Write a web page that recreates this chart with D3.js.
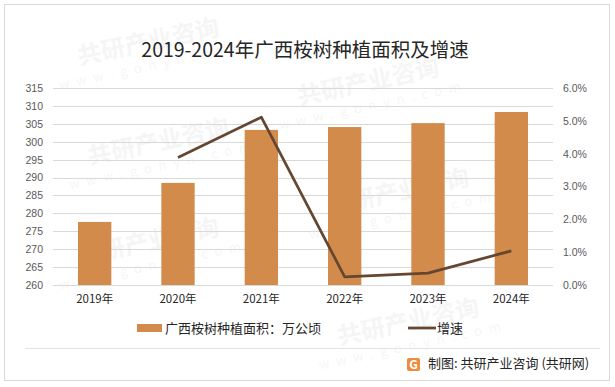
<!DOCTYPE html>
<html>
<head>
<meta charset="utf-8">
<script src="https://cdn.jsdelivr.net/npm/d3@7"></script>
<style>
  body { margin: 0; background: #fff; }
  text { font-family: "Noto Sans CJK SC", "Noto Sans", sans-serif; }
</style>
</head>
<body>
<div id="chart"></div>
<script>
// Data
var years = ["2019年", "2020年", "2021年", "2022年", "2023年", "2024年"];
var area = [277.6, 288.5, 303.3, 304.1, 305.2, 308.3];
var growth = [null, 3.88, 5.11, 0.25, 0.36, 1.04];
var leftTicks = [260, 265, 270, 275, 280, 285, 290, 295, 300, 305, 310, 315];
var rightTicks = [0, 1, 2, 3, 4, 5, 6];

// Canvas attributes
var width = 615;
var height = 387;
var plotLeft = 53;
var plotRight = 553;
var plotTop = 88;
var plotBottom = 285;
var barColor = "#d38b4c";
var lineColor = "#654630";

var svg = d3
  .select("#chart")
  .append("svg")
  .attr("width", width)
  .attr("height", height);

// border
svg.append("rect")
  .attr("x", 4.5).attr("y", 4.5)
  .attr("width", 605).attr("height", 376)
  .attr("fill", "#fff")
  .attr("stroke", "#d9d9d9");

// faint watermarks, kept inside the frame
var marks = [[150, 50], [370, 90], [160, 150], [400, 200], [150, 250], [410, 330]];
marks.forEach(function(m) {
  var g = svg.append("g")
    .attr("transform", "translate(" + m[0] + "," + m[1] + ") rotate(-12)")
    .attr("opacity", 0.035);
  g.append("text")
    .attr("text-anchor", "middle")
    .attr("font-size", 24).attr("font-weight", "bold")
    .attr("fill", "#000")
    .text("共研产业咨询");
  g.append("text")
    .attr("y", 20)
    .attr("text-anchor", "middle")
    .attr("font-size", 13).attr("letter-spacing", 7)
    .attr("fill", "#000")
    .text("www.gonyn.com");
});

// Title
svg.append("text")
  .attr("x", 305)
  .attr("y", 57)
  .attr("text-anchor", "middle")
  .attr("font-size", 19.5)
  .attr("fill", "#262626")
  .text("2019-2024年广西桉树种植面积及增速");

// Scales
var xScale = d3.scaleBand()
  .domain(years)
  .range([plotLeft, plotRight])
  .paddingInner(0.6)
  .paddingOuter(0.3);

var yLeft = d3.scaleLinear()
  .domain([260, 315])
  .range([plotBottom, plotTop]);

var yRight = d3.scaleLinear()
  .domain([0, 6])
  .range([plotBottom, plotTop]);

// Gridlines
svg.append("g")
  .selectAll("line")
  .data(leftTicks)
  .enter()
  .append("line")
  .attr("x1", plotLeft)
  .attr("x2", plotRight)
  .attr("y1", function(d) { return Math.round(yLeft(d)) + 0.5; })
  .attr("y2", function(d) { return Math.round(yLeft(d)) + 0.5; })
  .attr("stroke", "#d9d9d9")
  .attr("stroke-width", 1);

// Axes
var leftAxis = d3.axisLeft(yLeft).tickValues(leftTicks).tickSize(0).tickPadding(10);
var gl = svg.append("g")
  .attr("transform", "translate(" + plotLeft + ",0)")
  .call(leftAxis);
gl.select(".domain").remove();
gl.selectAll("text").attr("font-size", 10.5).attr("fill", "#595959")
  .style("font-family", "'Liberation Sans', Arial, sans-serif");

var rightAxis = d3.axisRight(yRight).tickValues(rightTicks).tickSize(0).tickPadding(10)
  .tickFormat(function(d) { return d.toFixed(1) + "%"; });
var gr = svg.append("g")
  .attr("transform", "translate(" + plotRight + ",0)")
  .call(rightAxis);
gr.select(".domain").remove();
gr.selectAll("text").attr("font-size", 10.5).attr("fill", "#595959")
  .style("font-family", "'Liberation Sans', Arial, sans-serif");

var bottomAxis = d3.axisBottom(xScale).tickSize(0).tickPadding(10);
var gb = svg.append("g")
  .attr("transform", "translate(0," + plotBottom + ")")
  .call(bottomAxis);
gb.select(".domain").remove();
gb.selectAll("text").attr("font-size", 11.5).attr("fill", "#262626");

// Bars
svg.append("g")
  .selectAll("rect")
  .data(area)
  .enter()
  .append("rect")
  .attr("x", function(d, i) { return xScale(years[i]); })
  .attr("y", function(d) { return yLeft(d); })
  .attr("width", xScale.bandwidth())
  .attr("height", function(d) { return plotBottom - yLeft(d); })
  .attr("fill", barColor);

// Growth line
var line = d3.line()
  .defined(function(d) { return d !== null; })
  .x(function(d, i) { return xScale(years[i]) + xScale.bandwidth() / 2; })
  .y(function(d) { return yRight(d); });

svg.append("path")
  .datum(growth)
  .attr("d", line)
  .attr("fill", "none")
  .attr("stroke", lineColor)
  .attr("stroke-width", 2.75)
  .attr("stroke-linejoin", "round");

// Legend
svg.append("rect")
  .attr("x", 137).attr("y", 324)
  .attr("width", 25).attr("height", 8)
  .attr("fill", barColor);
svg.append("text")
  .attr("x", 165).attr("y", 333)
  .attr("font-size", 13).attr("fill", "#262626")
  .text("广西桉树种植面积：万公顷");
svg.append("line")
  .attr("x1", 408).attr("x2", 436)
  .attr("y1", 328).attr("y2", 328)
  .attr("stroke", lineColor).attr("stroke-width", 2.75);
svg.append("text")
  .attr("x", 437).attr("y", 333)
  .attr("font-size", 13).attr("fill", "#262626")
  .text("增速");

// Separator
svg.append("line")
  .attr("x1", 25).attr("x2", 600)
  .attr("y1", 348.5).attr("y2", 348.5)
  .attr("stroke", "#e3e3e3");

// Footer logo + source
var logo = svg.append("g").attr("transform", "translate(407,358)");
logo.append("rect")
  .attr("width", 13).attr("height", 13).attr("rx", 2)
  .attr("fill", "#f08a3c");
logo.append("text")
  .attr("x", 6.5).attr("y", 11)
  .attr("text-anchor", "middle")
  .attr("font-size", 12).attr("font-weight", "bold")
  .attr("fill", "#fff")
  .text("G");
svg.append("text")
  .attr("x", 428).attr("y", 368)
  .attr("font-size", 13).attr("fill", "#262626")
  .text("制图: 共研产业咨询 (共研网)");
</script>
</body>
</html>
